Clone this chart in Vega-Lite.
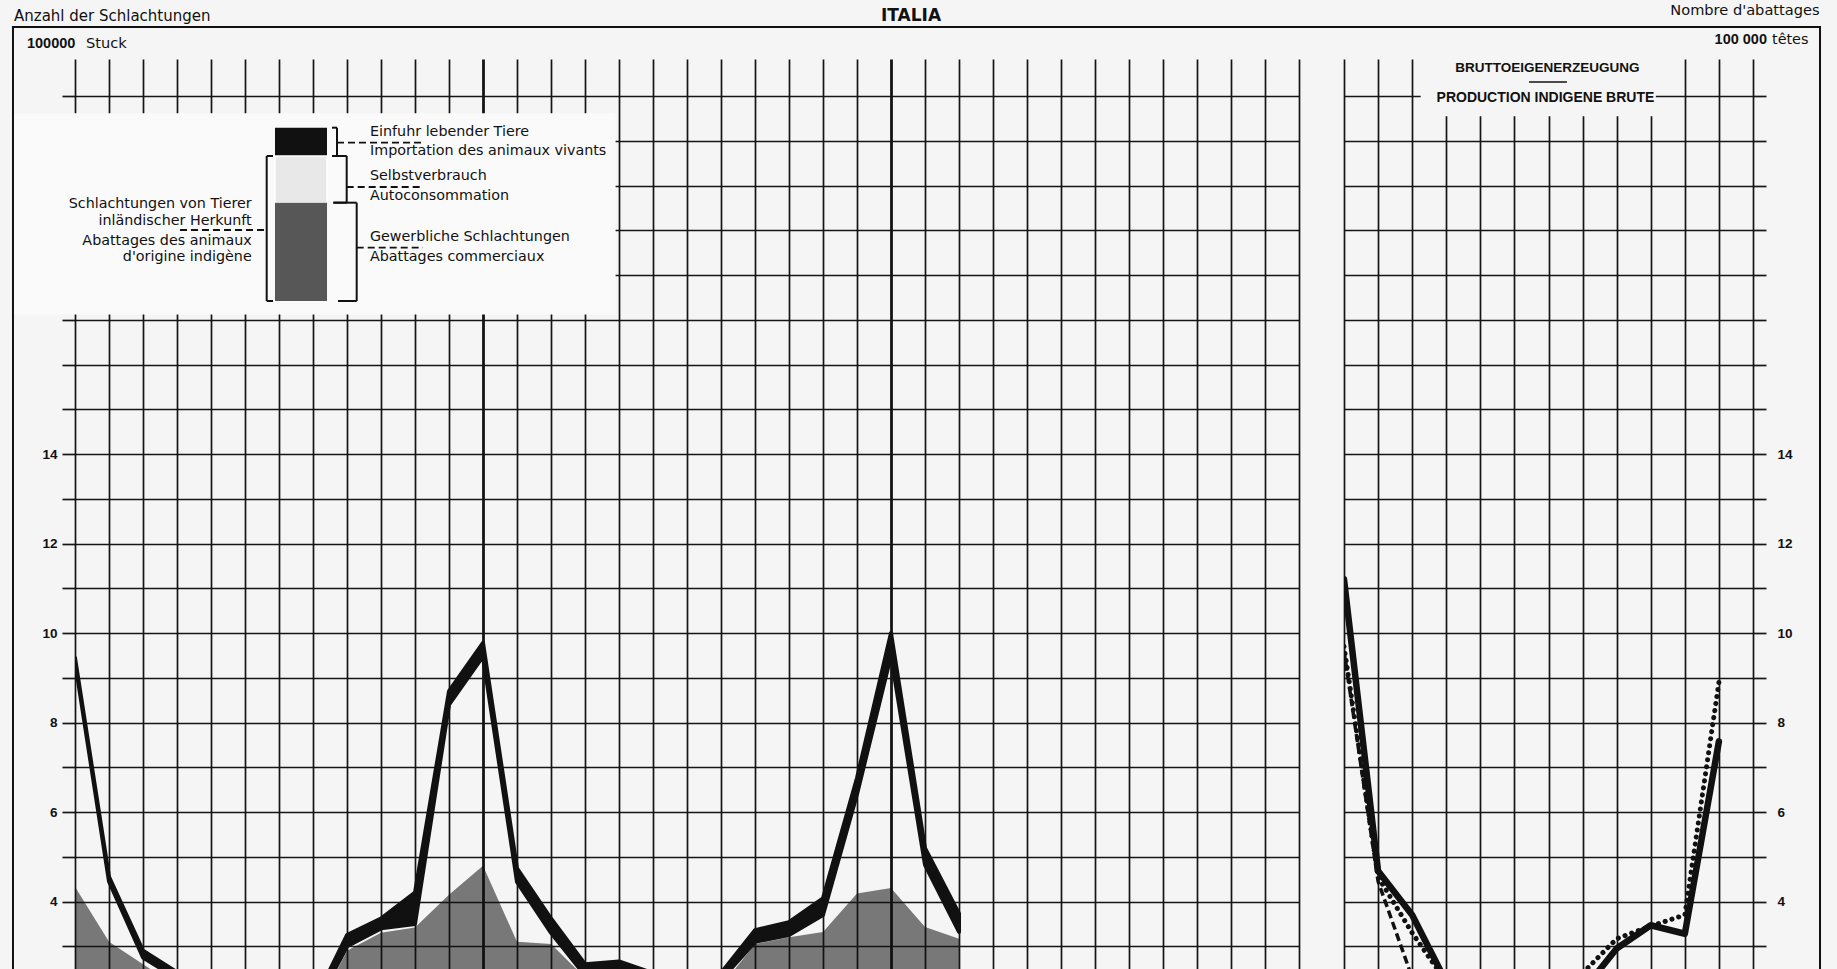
{
  "$schema": "https://vega.github.io/schema/vega-lite/v6.json",
  "background": "#f5f5f5",
  "padding": 0,
  "bounds": "flush",
  "spacing": 45,
  "config": {
    "view": {"stroke": null},
    "text": {"font": "DejaVu Sans", "color": "#111111"}
  },
  "datasets": {
    "slaughter": [
      {"m": 0, "total": 9.45, "domestic": 9.37, "commercial": 4.33},
      {"m": 1, "total": 4.55, "domestic": 4.45, "commercial": 3.1},
      {"m": 2, "total": 2.9, "domestic": 2.75, "commercial": 2.6},
      {"m": 3, "total": 2.42, "domestic": 2.28, "commercial": 2.1},
      {"m": 4, "total": 2.0, "domestic": 1.9, "commercial": 1.7},
      {"m": 5, "total": 1.9, "domestic": 1.8, "commercial": 1.6},
      {"m": 6, "total": 1.8, "domestic": 1.7, "commercial": 1.5},
      {"m": 7, "total": 1.7, "domestic": 1.55, "commercial": 1.4},
      {"m": 8, "total": 3.25, "domestic": 3.0, "commercial": 2.9},
      {"m": 9, "total": 3.62, "domestic": 3.4, "commercial": 3.3},
      {"m": 10, "total": 4.2, "domestic": 3.5, "commercial": 3.42},
      {"m": 11, "total": 8.7, "domestic": 8.4, "commercial": 4.15},
      {"m": 12, "total": 9.78, "domestic": 9.48, "commercial": 4.8},
      {"m": 13, "total": 4.74, "domestic": 4.44, "commercial": 3.1},
      {"m": 14, "total": 3.62, "domestic": 3.3, "commercial": 3.05},
      {"m": 15, "total": 2.6, "domestic": 2.35, "commercial": 2.3},
      {"m": 16, "total": 2.66, "domestic": 2.5, "commercial": 2.0},
      {"m": 17, "total": 2.4, "domestic": 2.25, "commercial": 1.9},
      {"m": 18, "total": 2.0, "domestic": 1.9, "commercial": 1.6},
      {"m": 19, "total": 2.4, "domestic": 2.25, "commercial": 2.1},
      {"m": 20, "total": 3.36, "domestic": 3.1, "commercial": 3.05},
      {"m": 21, "total": 3.54, "domestic": 3.25, "commercial": 3.2},
      {"m": 22, "total": 4.07, "domestic": 3.7, "commercial": 3.32},
      {"m": 23, "total": 6.76, "domestic": 6.4, "commercial": 4.18},
      {"m": 24, "total": 10.0, "domestic": 9.5, "commercial": 4.3},
      {"m": 25, "total": 5.19, "domestic": 4.82, "commercial": 3.43},
      {"m": 26, "total": 3.73, "domestic": 3.32, "commercial": 3.17}
    ],
    "production": [
      {"month": 0, "series": "solid", "value": 11.2},
      {"month": 1, "series": "solid", "value": 4.68},
      {"month": 2, "series": "solid", "value": 3.7},
      {"month": 3, "series": "solid", "value": 2.2},
      {"month": 4, "series": "solid", "value": 1.8},
      {"month": 5, "series": "solid", "value": 1.6},
      {"month": 6, "series": "solid", "value": 1.6},
      {"month": 7, "series": "solid", "value": 2.0},
      {"month": 8, "series": "solid", "value": 2.95},
      {"month": 9, "series": "solid", "value": 3.47},
      {"month": 10, "series": "solid", "value": 3.28},
      {"month": 11, "series": "solid", "value": 7.58},
      {"month": 0, "series": "dashed", "value": 9.6},
      {"month": 1, "series": "dashed", "value": 4.45},
      {"month": 2, "series": "dashed", "value": 2.3},
      {"month": 0, "series": "dotted", "value": 9.7},
      {"month": 1, "series": "dotted", "value": 4.55},
      {"month": 2, "series": "dotted", "value": 3.3},
      {"month": 3, "series": "dotted", "value": 2.2},
      {"month": 4, "series": "dotted", "value": 1.8},
      {"month": 5, "series": "dotted", "value": 1.6},
      {"month": 6, "series": "dotted", "value": 1.8},
      {"month": 7, "series": "dotted", "value": 2.4},
      {"month": 8, "series": "dotted", "value": 3.17},
      {"month": 9, "series": "dotted", "value": 3.45},
      {"month": 10, "series": "dotted", "value": 3.7},
      {"month": 11, "series": "dotted", "value": 8.9}
    ]
  },
  "hconcat": [
    {
      "width": 1224,
      "height": 911,
      "layer": [
        {
          "data": {"name": "slaughter"},
          "mark": {"type": "area", "clip": true, "fill": "#111111", "fillOpacity": 0.55},
          "encoding": {
            "x": {
              "field": "m", "type": "quantitative",
              "scale": {"domain": [0, 36], "nice": false, "zero": false},
              "axis": {
                "values": [0,1,2,3,4,5,6,7,8,9,10,11,12,13,14,15,16,17,18,19,20,21,22,23,24,25,26,27,28,29,30,31,32,33,34,35,36],
                "tickCount": 200,
                "grid": true, "gridColor": "#151515",
                "gridWidth": {"condition": {"test": "datum.value === 12 || datum.value === 24", "value": 2.8}, "value": 1.7},
                "labels": false, "ticks": false, "domain": false, "title": null
              }
            },
            "y": {
              "field": "commercial", "type": "quantitative",
              "scale": {"domain": [2.47, 22.83], "nice": false, "zero": false},
              "axis": {
                "orient": "left",
                "values": [3,4,5,6,7,8,9,10,11,12,13,14,15,16,17,18,19,20,21,22],
                "tickCount": 200,
                "format": "d",
                "grid": true, "gridColor": "#151515", "gridWidth": 1.7,
                "ticks": true, "tickSize": 13, "tickWidth": 1.7, "tickColor": "#151515",
                "domain": false, "title": null,
                "labelExpr": "datum.value % 2 === 0 && datum.value <= 14 ? datum.label : ''",
                "labelFont": "Liberation Sans", "labelFontWeight": "bold", "labelFontSize": 13.5,
                "labelColor": "#111111", "labelPadding": 5
              }
            },
            "y2": {"datum": 0}
          }
        },
        {
          "data": {"name": "slaughter"},
          "mark": {"type": "area", "clip": true, "fill": "#111111", "stroke": "#111111", "strokeWidth": 4, "strokeJoin": "round"},
          "encoding": {
            "x": {"field": "m", "type": "quantitative"},
            "y": {"field": "total", "type": "quantitative"},
            "y2": {"field": "domestic"}
          }
        },
        {
          "data": {"values": [{}]},
          "mark": {"type": "rect", "fill": "#fafafa"},
          "encoding": {"x": {"datum": -1.824}, "x2": {"datum": 15.9}, "y": {"datum": 21.62}, "y2": {"datum": 17.12}}
        },
        {
          "data": {"values": [{}]},
          "mark": {"type": "rect", "fill": "#111111"},
          "encoding": {"x": {"datum": 5.882}, "x2": {"datum": 7.412}, "y": {"datum": 21.295}, "y2": {"datum": 20.662}}
        },
        {
          "data": {"values": [{}]},
          "mark": {"type": "rect", "fill": "#e8e8e8", "stroke": "#ffffff", "strokeWidth": 1.5},
          "encoding": {"x": {"datum": 5.882}, "x2": {"datum": 7.412}, "y": {"datum": 20.662}, "y2": {"datum": 19.619}}
        },
        {
          "data": {"values": [{}]},
          "mark": {"type": "rect", "fill": "#111111", "fillOpacity": 0.7},
          "encoding": {"x": {"datum": 5.882}, "x2": {"datum": 7.412}, "y": {"datum": 19.619}, "y2": {"datum": 17.422}}
        },
        {
          "data": {"values": [{}]},
          "mark": {"type": "rule", "stroke": "#111111", "strokeWidth": 2},
          "encoding": {"x": {"datum": 5.638}, "y": {"datum": 20.662}, "y2": {"datum": 17.422}}
        },
        {
          "data": {"values": [{}]},
          "mark": {"type": "rule", "stroke": "#111111", "strokeWidth": 2},
          "encoding": {"x": {"datum": 5.638}, "x2": {"datum": 5.824}, "y": {"datum": 20.662}}
        },
        {
          "data": {"values": [{}]},
          "mark": {"type": "rule", "stroke": "#111111", "strokeWidth": 2},
          "encoding": {"x": {"datum": 5.638}, "x2": {"datum": 5.824}, "y": {"datum": 17.422}}
        },
        {
          "data": {"values": [{}]},
          "mark": {"type": "rule", "stroke": "#111111", "strokeWidth": 2},
          "encoding": {"x": {"datum": 7.706}, "y": {"datum": 21.295}, "y2": {"datum": 20.662}}
        },
        {
          "data": {"values": [{}]},
          "mark": {"type": "rule", "stroke": "#111111", "strokeWidth": 2},
          "encoding": {"x": {"datum": 7.559}, "x2": {"datum": 7.706}, "y": {"datum": 21.295}}
        },
        {
          "data": {"values": [{}]},
          "mark": {"type": "rule", "stroke": "#111111", "strokeWidth": 2},
          "encoding": {"x": {"datum": 7.559}, "x2": {"datum": 7.706}, "y": {"datum": 20.662}}
        },
        {
          "data": {"values": [{}]},
          "mark": {"type": "rule", "stroke": "#111111", "strokeWidth": 2},
          "encoding": {"x": {"datum": 7.991}, "y": {"datum": 20.662}, "y2": {"datum": 19.619}}
        },
        {
          "data": {"values": [{}]},
          "mark": {"type": "rule", "stroke": "#111111", "strokeWidth": 2},
          "encoding": {"x": {"datum": 7.6}, "x2": {"datum": 7.991}, "y": {"datum": 20.662}}
        },
        {
          "data": {"values": [{}]},
          "mark": {"type": "rule", "stroke": "#111111", "strokeWidth": 2},
          "encoding": {"x": {"datum": 7.6}, "x2": {"datum": 7.991}, "y": {"datum": 19.619}}
        },
        {
          "data": {"values": [{}]},
          "mark": {"type": "rule", "stroke": "#111111", "strokeWidth": 2},
          "encoding": {"x": {"datum": 8.285}, "y": {"datum": 19.619}, "y2": {"datum": 17.422}}
        },
        {
          "data": {"values": [{}]},
          "mark": {"type": "rule", "stroke": "#111111", "strokeWidth": 2},
          "encoding": {"x": {"datum": 7.6}, "x2": {"datum": 8.285}, "y": {"datum": 19.619}}
        },
        {
          "data": {"values": [{}]},
          "mark": {"type": "rule", "stroke": "#111111", "strokeWidth": 2},
          "encoding": {"x": {"datum": 7.735}, "x2": {"datum": 8.285}, "y": {"datum": 17.422}}
        },
        {
          "data": {"values": [{}]},
          "mark": {"type": "rule", "stroke": "#111111", "strokeWidth": 1.8, "strokeDash": [7, 4]},
          "encoding": {"x": {"datum": 7.706}, "x2": {"datum": 10.235}, "y": {"datum": 20.959}}
        },
        {
          "data": {"values": [{}]},
          "mark": {"type": "rule", "stroke": "#111111", "strokeWidth": 1.8, "strokeDash": [7, 4]},
          "encoding": {"x": {"datum": 7.991}, "x2": {"datum": 10.235}, "y": {"datum": 19.969}}
        },
        {
          "data": {"values": [{}]},
          "mark": {"type": "rule", "stroke": "#111111", "strokeWidth": 1.8, "strokeDash": [7, 4]},
          "encoding": {"x": {"datum": 8.285}, "x2": {"datum": 10.235}, "y": {"datum": 18.613}}
        },
        {
          "data": {"values": [{}]},
          "mark": {"type": "rule", "stroke": "#111111", "strokeWidth": 1.8, "strokeDash": [7, 4]},
          "encoding": {"x": {"datum": 3.088}, "x2": {"datum": 5.638}, "y": {"datum": 19.008}}
        },
        {
          "data": {"values": [{}]},
          "mark": {"type": "text", "text": "Einfuhr lebender Tiere\nImportation des animaux vivants", "lineBreak": "\n", "lineHeight": 19.3, "align": "left", "baseline": "middle", "fontSize": 14.3},
          "encoding": {"x": {"datum": 8.676}, "y": {"datum": 21.205}}
        },
        {
          "data": {"values": [{}]},
          "mark": {"type": "text", "text": "Selbstverbrauch\nAutoconsommation", "lineBreak": "\n", "lineHeight": 20, "align": "left", "baseline": "middle", "fontSize": 14.3},
          "encoding": {"x": {"datum": 8.676}, "y": {"datum": 20.215}}
        },
        {
          "data": {"values": [{}]},
          "mark": {"type": "text", "text": "Gewerbliche Schlachtungen\nAbattages commerciaux", "lineBreak": "\n", "lineHeight": 20, "align": "left", "baseline": "middle", "fontSize": 14.3},
          "encoding": {"x": {"datum": 8.676}, "y": {"datum": 18.852}}
        },
        {
          "data": {"values": [{}]},
          "mark": {"type": "text", "text": "Schlachtungen von Tierer\ninländischer Herkunft", "lineBreak": "\n", "lineHeight": 16.7, "align": "right", "baseline": "middle", "fontSize": 14.3},
          "encoding": {"x": {"datum": 5.197}, "y": {"datum": 19.583}}
        },
        {
          "data": {"values": [{}]},
          "mark": {"type": "text", "text": "Abattages des animaux\nd'origine indigène", "lineBreak": "\n", "lineHeight": 16, "align": "right", "baseline": "middle", "fontSize": 14.3},
          "encoding": {"x": {"datum": 5.197}, "y": {"datum": 18.762}}
        },
        {
          "data": {"values": [{}]},
          "mark": {"type": "text", "text": "Anzahl der Schlachtungen", "align": "left", "baseline": "middle", "fontSize": 15},
          "encoding": {"x": {"datum": -1.794}, "y": {"datum": 23.791}}
        },
        {
          "data": {"values": [{}]},
          "mark": {"type": "text", "text": "ITALIA", "align": "center", "baseline": "middle", "fontSize": 17, "fontWeight": "bold"},
          "encoding": {"x": {"datum": 24.588}, "y": {"datum": 23.791}}
        },
        {
          "data": {"values": [{}]},
          "mark": {"type": "text", "text": "100000", "align": "left", "baseline": "middle", "fontSize": 14.5, "fontWeight": "bold", "font": "Liberation Sans"},
          "encoding": {"x": {"datum": -1.412}, "y": {"datum": 23.165}}
        },
        {
          "data": {"values": [{}]},
          "mark": {"type": "text", "text": "Stuck", "align": "left", "baseline": "middle", "fontSize": 14.6},
          "encoding": {"x": {"datum": 0.3235}, "y": {"datum": 23.165}}
        },
        {
          "data": {"values": [{}]},
          "mark": {"type": "rule", "stroke": "#111111", "strokeWidth": 2, "strokeCap": "square"},
          "encoding": {"x": {"datum": -1.824}, "x2": {"datum": 36.676}, "y": {"datum": 23.545}}
        },
        {
          "data": {"values": [{}]},
          "mark": {"type": "rule", "stroke": "#111111", "strokeWidth": 2, "strokeCap": "square"},
          "encoding": {"x": {"datum": -1.824}, "y": {"datum": 23.545}, "y2": {"datum": 2.47}}
        },
        {
          "data": {"values": [{}]},
          "mark": {"type": "rule", "stroke": "#f5f5f5", "strokeWidth": 0.5},
          "encoding": {"x": {"datum": -2.1985}, "y": {"datum": 24.126}, "y2": {"datum": 2.47}}
        }
      ]
    },
    {
      "width": 409,
      "height": 911,
      "layer": [
        {
          "data": {"name": "production"},
          "transform": [{"filter": "datum.series === 'solid'"}],
          "mark": {"type": "line", "clip": true, "stroke": "#111111", "strokeWidth": 6.5, "strokeJoin": "round", "strokeCap": "round"},
          "encoding": {
            "x": {
              "field": "month", "type": "quantitative",
              "scale": {"domain": [0, 12], "nice": false, "zero": false},
              "axis": {
                "values": [0,1,2,3,4,5,6,7,8,9,10,11,12],
                "tickCount": 200,
                "grid": true, "gridColor": "#151515", "gridWidth": 1.7,
                "labels": false, "ticks": false, "domain": false, "title": null
              }
            },
            "y": {
              "field": "value", "type": "quantitative",
              "scale": {"domain": [2.47, 22.83], "nice": false, "zero": false},
              "axis": {
                "orient": "right",
                "values": [3,4,5,6,7,8,9,10,11,12,13,14,15,16,17,18,19,20,21,22],
                "tickCount": 200,
                "format": "d",
                "grid": true, "gridColor": "#151515", "gridWidth": 1.7,
                "ticks": true, "tickSize": 13, "tickWidth": 1.7, "tickColor": "#151515",
                "domain": false, "title": null,
                "labelExpr": "datum.value % 2 === 0 && datum.value <= 14 ? datum.label : ''",
                "labelFont": "Liberation Sans", "labelFontWeight": "bold", "labelFontSize": 13.5,
                "labelColor": "#111111", "labelPadding": 11
              }
            }
          }
        },
        {
          "data": {"name": "production"},
          "transform": [{"filter": "datum.series === 'dashed'"}],
          "mark": {"type": "line", "clip": true, "stroke": "#111111", "strokeWidth": 3.5, "strokeDash": [8, 4]},
          "encoding": {
            "x": {"field": "month", "type": "quantitative"},
            "y": {"field": "value", "type": "quantitative"}
          }
        },
        {
          "data": {"name": "production"},
          "transform": [{"filter": "datum.series === 'dotted'"}],
          "mark": {"type": "line", "clip": true, "stroke": "#111111", "strokeWidth": 5, "strokeDash": [0.1, 7], "strokeCap": "round"},
          "encoding": {
            "x": {"field": "month", "type": "quantitative"},
            "y": {"field": "value", "type": "quantitative"}
          }
        },
        {
          "data": {"values": [{}]},
          "mark": {"type": "rect", "fill": "#f5f5f5"},
          "encoding": {"x": {"datum": 2.25}, "x2": {"datum": 9.15}, "y": {"datum": 22.9}, "y2": {"datum": 21.55}}
        },
        {
          "data": {"values": [{}]},
          "mark": {"type": "text", "text": "BRUTTOEIGENERZEUGUNG", "align": "center", "baseline": "middle", "fontSize": 13.5, "fontWeight": "bold", "font": "Liberation Sans"},
          "encoding": {"x": {"datum": 5.97}, "y": {"datum": 22.636}}
        },
        {
          "data": {"values": [{}]},
          "mark": {"type": "rule", "stroke": "#111111", "strokeWidth": 1.5},
          "encoding": {"x": {"datum": 5.43}, "x2": {"datum": 6.54}, "y": {"datum": 22.316}}
        },
        {
          "data": {"values": [{}]},
          "mark": {"type": "text", "text": "PRODUCTION INDIGENE BRUTE", "align": "center", "baseline": "middle", "fontSize": 14, "fontWeight": "bold", "font": "Liberation Sans"},
          "encoding": {"x": {"datum": 5.91}, "y": {"datum": 21.952}}
        },
        {
          "data": {"values": [{}]},
          "mark": {"type": "text", "text": "Nombre d'abattages", "align": "right", "baseline": "middle", "fontSize": 14.6},
          "encoding": {"x": {"datum": 13.953}, "y": {"datum": 23.892}}
        },
        {
          "data": {"values": [{}]},
          "mark": {"type": "text", "text": "100 000", "align": "right", "baseline": "middle", "fontSize": 14.5, "fontWeight": "bold", "font": "Liberation Sans"},
          "encoding": {"x": {"datum": 12.411}, "y": {"datum": 23.255}}
        },
        {
          "data": {"values": [{}]},
          "mark": {"type": "text", "text": "têtes", "align": "left", "baseline": "middle", "fontSize": 14.4},
          "encoding": {"x": {"datum": 12.557}, "y": {"datum": 23.255}}
        },
        {
          "data": {"values": [{}]},
          "mark": {"type": "rule", "stroke": "#111111", "strokeWidth": 2, "strokeCap": "square"},
          "encoding": {"x": {"datum": -0.6455}, "x2": {"datum": 13.966}, "y": {"datum": 23.545}}
        },
        {
          "data": {"values": [{}]},
          "mark": {"type": "rule", "stroke": "#111111", "strokeWidth": 2, "strokeCap": "square"},
          "encoding": {"x": {"datum": 13.966}, "y": {"datum": 23.545}, "y2": {"datum": 2.47}}
        },
        {
          "data": {"values": [{}]},
          "mark": {"type": "rule", "stroke": "#f5f5f5", "strokeWidth": 0.5},
          "encoding": {"x": {"datum": 14.457}, "y": {"datum": 24.126}, "y2": {"datum": 2.47}}
        }
      ]
    }
  ]
}
